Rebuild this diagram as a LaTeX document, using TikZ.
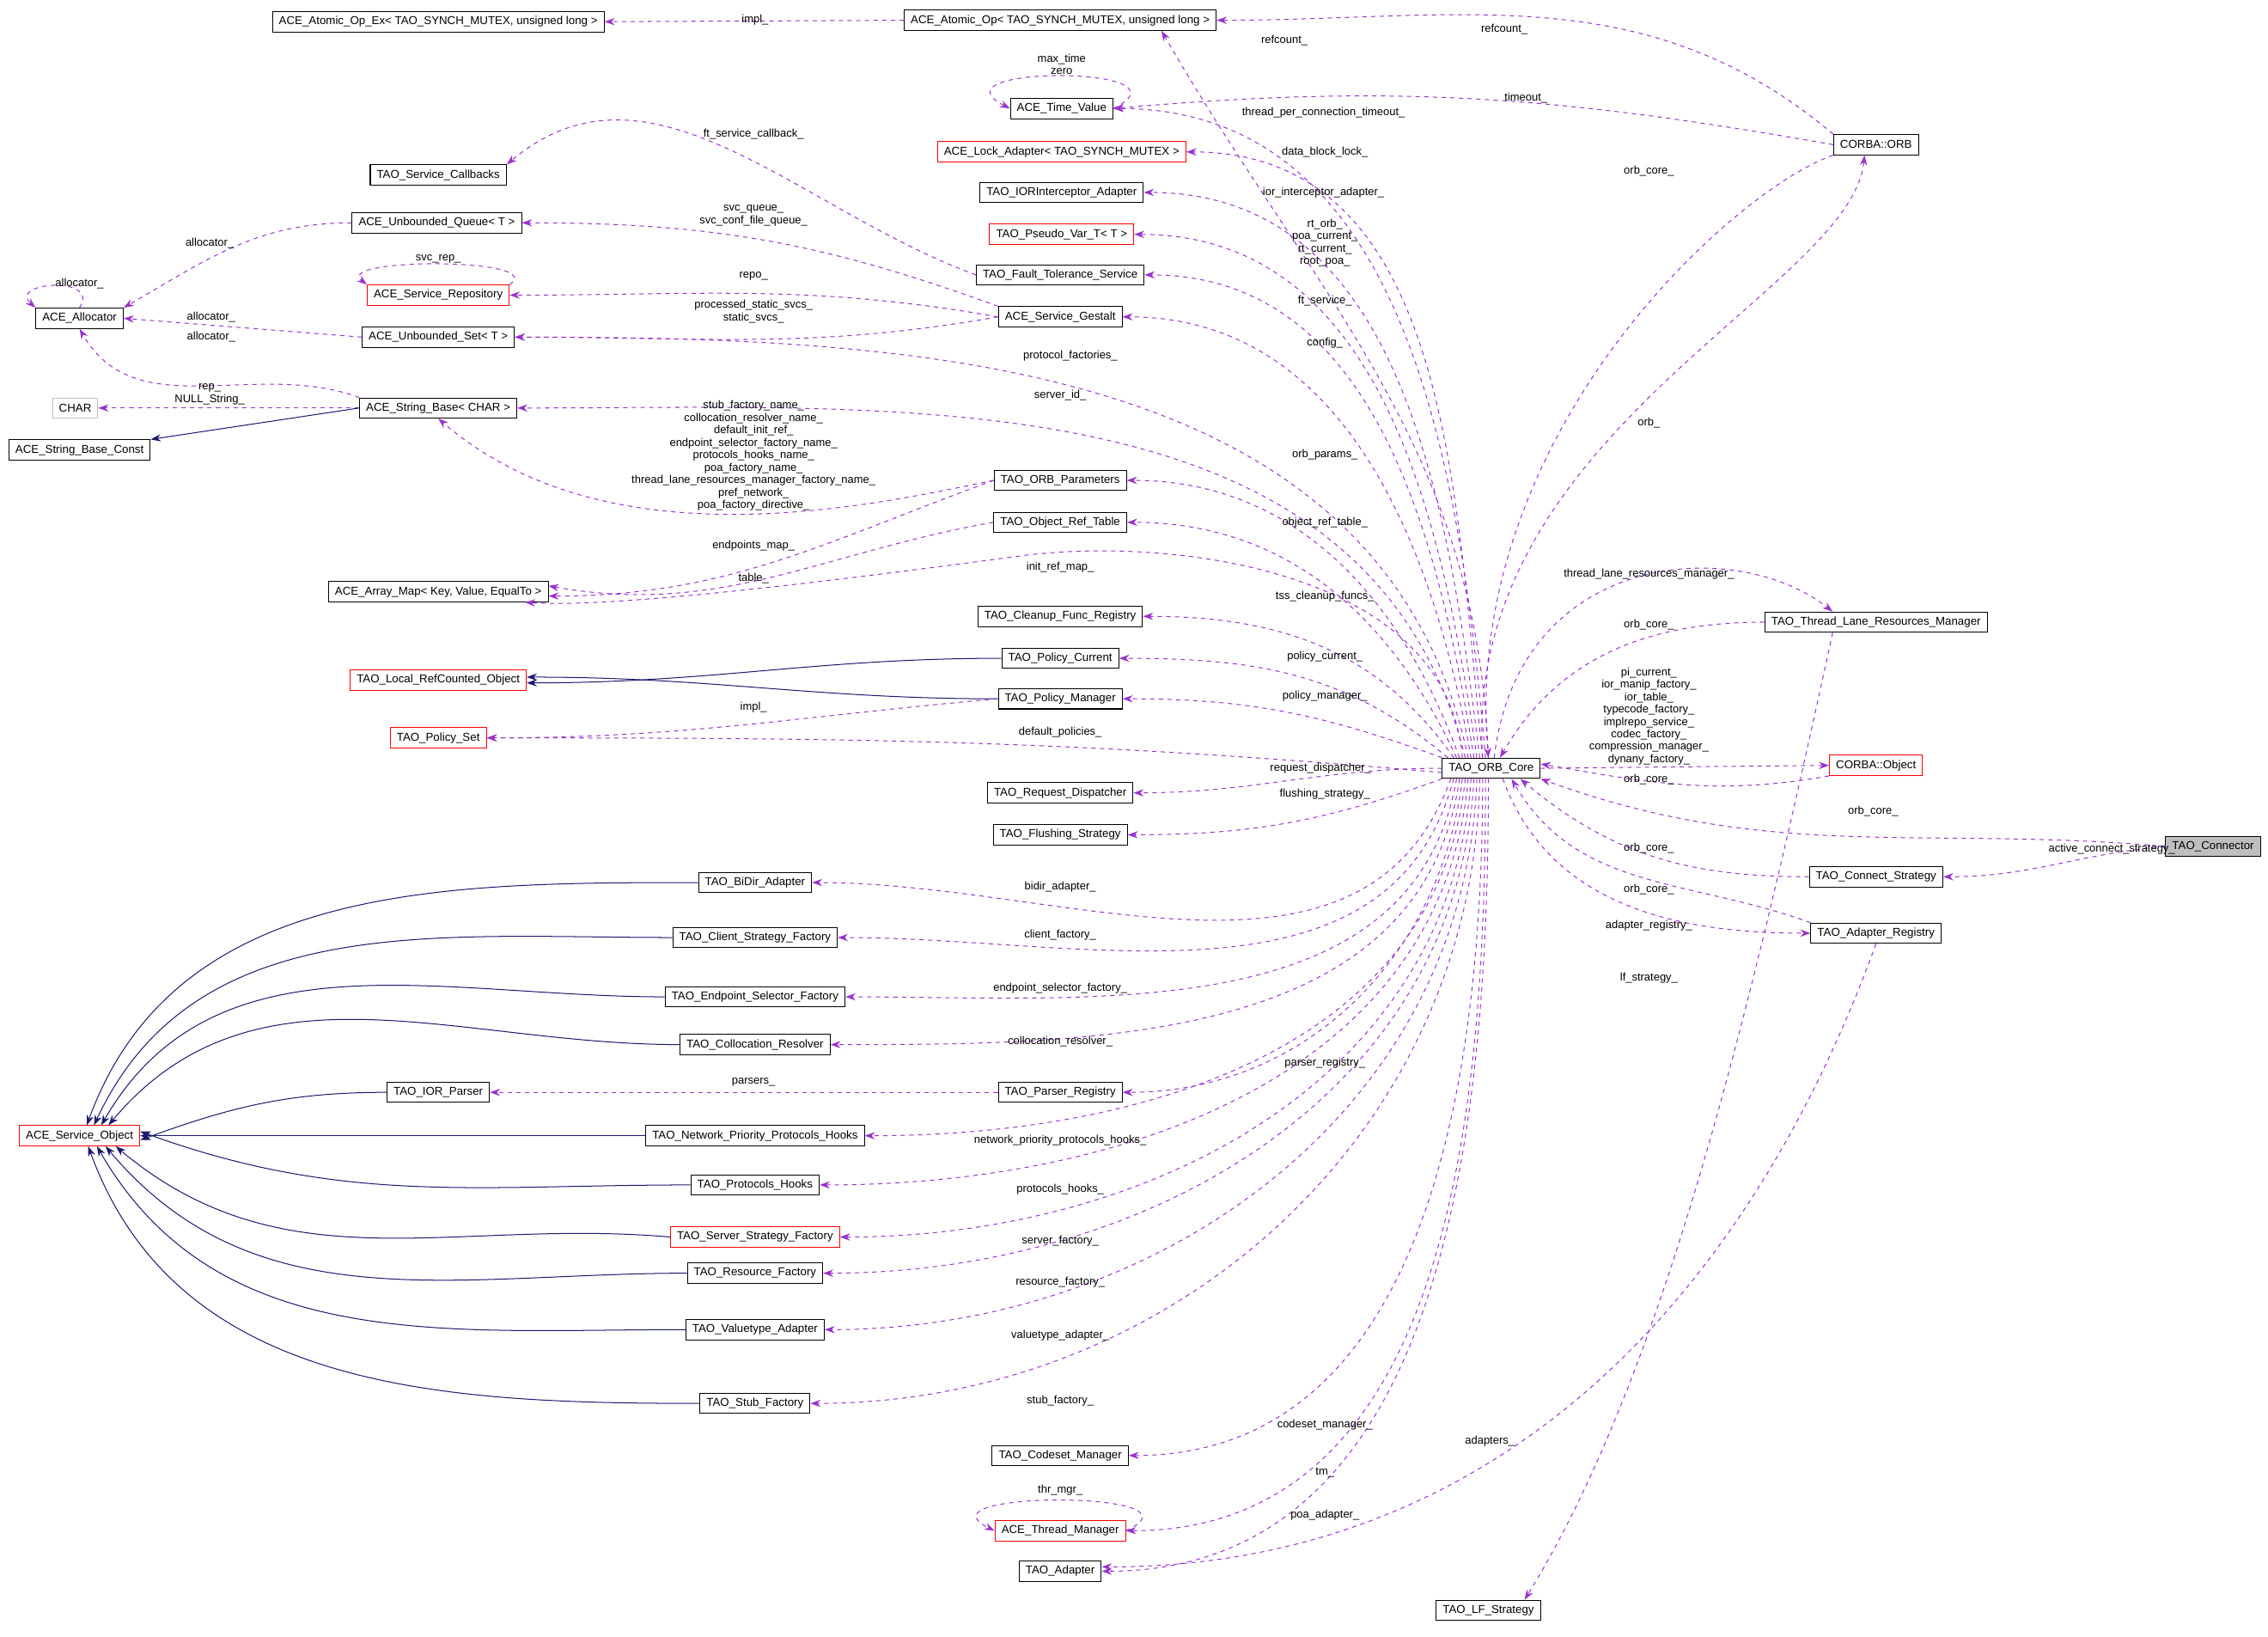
\documentclass[tikz,border=0pt]{standalone}
\usepackage{fontspec}
\setmainfont{Liberation Sans}
\usetikzlibrary{arrows.meta}
\definecolor{dep}{HTML}{9A32CD}
\definecolor{inhc}{HTML}{191970}
\definecolor{grayb}{HTML}{BFBFBF}
\begin{document}
\begin{tikzpicture}[x=1pt,y=-1pt,
 box/.style={draw=black,line width=0.6pt,font=\fontsize{7.9}{8.8}\selectfont,inner xsep=4.5pt,inner ysep=1pt,minimum height=14pt},
 rbox/.style={box,draw=red},
 lab/.style={font=\fontsize{7.7}{8.6}\selectfont,inner sep=0pt,align=center},
 dep/.style={draw=dep,line width=0.6pt,dash pattern=on 3pt off 3pt,-{Stealth[length=7pt,width=5pt]}},
 inh/.style={draw=inhc,line width=0.6pt,-{Stealth[length=7pt,width=5pt]}}]
\useasboundingbox (0,0) rectangle (1568,1131);
% nodes
\node[box] (aoex) at (303,15) {ACE\_Atomic\_Op\_Ex< TAO\_SYNCH\_MUTEX, unsigned long >};
\node[box] (ao) at (733,14) {ACE\_Atomic\_Op< TAO\_SYNCH\_MUTEX, unsigned long >};
\node[box] (tv) at (734,75) {ACE\_Time\_Value};
\node[rbox] (la) at (734,105) {ACE\_Lock\_Adapter< TAO\_SYNCH\_MUTEX >};
\node[box] (iora) at (734,133) {TAO\_IORInterceptor\_Adapter};
\node[rbox] (pv) at (734,162) {TAO\_Pseudo\_Var\_T< T >};
\node[box] (ft) at (733,190) {TAO\_Fault\_Tolerance\_Service};
\node[box] (gest) at (733,219) {ACE\_Service\_Gestalt};
\node[box] (cb) at (303,121) {TAO\_Service\_Callbacks};
\node[box] (uq) at (302,154) {ACE\_Unbounded\_Queue< T >};
\node[rbox] (srep) at (303,204) {ACE\_Service\_Repository};
\node[box] (alloc) at (55,220) {ACE\_Allocator};
\node[box] (us) at (303,233) {ACE\_Unbounded\_Set< T >};
\node[box,draw=grayb] (char) at (52,282) {CHAR};
\node[box] (sb) at (303,282) {ACE\_String\_Base< CHAR >};
\node[box] (sbc) at (55,311) {ACE\_String\_Base\_Const};
\node[box] (par) at (733,332) {TAO\_ORB\_Parameters};
\node[box] (ort) at (733,361) {TAO\_Object\_Ref\_Table};
\node[box] (am) at (303,409) {ACE\_Array\_Map< Key, Value, EqualTo >};
\node[box] (cfr) at (733,426) {TAO\_Cleanup\_Func\_Registry};
\node[rbox] (lrc) at (303,470) {TAO\_Local\_RefCounted\_Object};
\node[box] (pc) at (733,455) {TAO\_Policy\_Current};
\node[box] (pm) at (733,483) {TAO\_Policy\_Manager};
\node[rbox] (ps) at (303,510) {TAO\_Policy\_Set};
\node[box] (rd) at (733,548) {TAO\_Request\_Dispatcher};
\node[box] (fs) at (733,577) {TAO\_Flushing\_Strategy};
\node[box] (bd) at (522,610) {TAO\_BiDir\_Adapter};
\node[box] (csf) at (522,648) {TAO\_Client\_Strategy\_Factory};
\node[box] (esf) at (522,689) {TAO\_Endpoint\_Selector\_Factory};
\node[box] (cr) at (522,722) {TAO\_Collocation\_Resolver};
\node[box] (iorp) at (303,755) {TAO\_IOR\_Parser};
\node[box] (pr) at (733,755) {TAO\_Parser\_Registry};
\node[box] (npph) at (522,785) {TAO\_Network\_Priority\_Protocols\_Hooks};
\node[rbox] (so) at (55,785) {ACE\_Service\_Object};
\node[box] (ph) at (522,819) {TAO\_Protocols\_Hooks};
\node[rbox] (ssf) at (522,855) {TAO\_Server\_Strategy\_Factory};
\node[box] (rf) at (522,880) {TAO\_Resource\_Factory};
\node[box] (va) at (522,919) {TAO\_Valuetype\_Adapter};
\node[box] (stf) at (522,970) {TAO\_Stub\_Factory};
\node[box] (csm) at (733,1006) {TAO\_Codeset\_Manager};
\node[rbox] (thm) at (733,1058) {ACE\_Thread\_Manager};
\node[box] (ad) at (733,1086) {TAO\_Adapter};
\node[box] (core) at (1031,531) {TAO\_ORB\_Core};
\node[box] (orb) at (1297,100) {CORBA::ORB};
\node[box] (tlrm) at (1297,430) {TAO\_Thread\_Lane\_Resources\_Manager};
\node[rbox] (obj) at (1297,529) {CORBA::Object};
\node[box,fill=grayb] (conn) at (1530,585) {TAO\_Connector};
\node[box] (cs) at (1297,606) {TAO\_Connect\_Strategy};
\node[box] (ar) at (1297,645) {TAO\_Adapter\_Registry};
\node[box] (lf) at (1029,1113) {TAO\_LF\_Strategy};
% upper left edges
\draw[dep] (ao.west) -- (aoex.east);
\draw[dep] ([xshift=-2]core.north) to[out=92,in=-60] ([xshift=70]ao.south);
\draw[dep] (orb.north west) to[out=140,in=0] (ao.east);
\draw[dep] (tv.east) .. controls (830,45) and (640,45) .. (tv.west);
\draw[dep] ([xshift=-4]core.north) to[out=95,in=0] (tv.east);
\draw[dep] (orb.west) to[out=170,in=5] (tv.east);
\draw[dep] ([xshift=-6]core.north) to[out=96,in=0] (la.east);
\draw[dep] ([xshift=-8]core.north) to[out=97,in=0] (iora.east);
\draw[dep] ([xshift=-10]core.north) to[out=98,in=0] (pv.east);
\draw[dep] ([xshift=-12]core.north) to[out=99,in=0] (ft.east);
\draw[dep] ([xshift=-14]core.north) to[out=100,in=0] (gest.east);
\draw[dep] (ft.west) to[out=160,in=40] (cb.north east);
\draw[dep] (gest.north west) to[out=160,in=0] (uq.east);
\draw[dep] (gest.west) to[out=170,in=0] (srep.east);
\draw[dep] (srep.north east) .. controls (380,178) and (230,178) .. (srep.north west);
\draw[dep] (gest.west) to[out=190,in=0] (us.east);
\draw[dep] (uq.west) to[out=180,in=30] (alloc.north east);
\draw[dep] (alloc.north) .. controls (70,190) and (5,195) .. (alloc.north west);
\draw[dep] (us.west) -- (alloc.east);
\draw[dep] (sb.north west) to[out=160,in=-60] (alloc.south);
\draw[dep] ([xshift=-16]core.north) to[out=102,in=0] (us.east);
\draw[dep] (sb.west) -- (char.east);
\draw[inh] (sb.west) -- (sbc.north east);
\draw[dep] ([xshift=-18]core.north) to[out=104,in=0] (sb.east);
\draw[dep] (par.west) .. controls (600,350) and (420,390) .. (sb.south);
\draw[dep] (par.west) to[out=200,in=0] ([yshift=-3]am.east);
\draw[dep] (ort.west) to[out=190,in=-10] ([yshift=4]am.east);
\draw[dep] ([xshift=-20]core.north) .. controls (1000,390) and (800,370) .. (700,385) .. controls (550,405) and (420,420) .. ([xshift=60]am.south);
\draw[dep] ([xshift=-22]core.north) to[out=110,in=0] (par.east);
\draw[dep] ([xshift=-24]core.north) to[out=115,in=0] (ort.east);
\draw[dep] ([xshift=-26]core.north) to[out=125,in=0] (cfr.east);
\draw[inh] (pc.west) to[out=180,in=0] ([yshift=-2]lrc.east);
\draw[inh] (pm.west) to[out=180,in=0] ([yshift=2]lrc.east);
\draw[dep] ([xshift=-30]core.north) to[out=140,in=0] (pc.east);
\draw[dep] (core.north west) to[out=160,in=0] (pm.east);
\draw[dep] (pm.west) to[out=185,in=0] (ps.east);
\draw[dep] ([yshift=-3]core.west) to[out=175,in=0] (ps.east);
\draw[dep] (core.west) to[out=180,in=0] (rd.east);
\draw[dep] (core.south west) to[out=200,in=0] (fs.east);
% lower edges
\draw[dep] ([xshift=-28]core.south) to[out=-110,in=0] (bd.east);
\draw[dep] ([xshift=-26]core.south) to[out=-105,in=0] (csf.east);
\draw[dep] ([xshift=-24]core.south) to[out=-100,in=0] (esf.east);
\draw[dep] ([xshift=-22]core.south) to[out=-98,in=0] (cr.east);
\draw[dep] ([xshift=-20]core.south) to[out=-97,in=0] (pr.east);
\draw[dep] (pr.west) -- (iorp.east);
\draw[dep] ([xshift=-18]core.south) to[out=-96,in=0] (npph.east);
\draw[dep] ([xshift=-16]core.south) to[out=-95,in=0] (ph.east);
\draw[dep] ([xshift=-14]core.south) to[out=-94,in=0] (ssf.east);
\draw[dep] ([xshift=-12]core.south) to[out=-93,in=0] (rf.east);
\draw[dep] ([xshift=-10]core.south) to[out=-92,in=0] (va.east);
\draw[dep] ([xshift=-8]core.south) to[out=-91,in=0] (stf.east);
\draw[dep] ([xshift=-6]core.south) to[out=-90,in=0] (csm.east);
\draw[dep] ([xshift=-4]core.south) to[out=-90,in=0] (thm.east);
\draw[dep] (thm.east) .. controls (840,1030) and (630,1030) .. (thm.west);
\draw[dep] ([xshift=-2]core.south) to[out=-90,in=0] (ad.east);
\draw[dep] (ar.south) to[out=-110,in=0] ([yshift=3]ad.east);
% inheritance to ACE_Service_Object
\draw[inh] (bd.west) to[out=180,in=70] ([xshift=5]so.north);
\draw[inh] (csf.west) to[out=180,in=65] ([xshift=10]so.north);
\draw[inh] (esf.west) to[out=180,in=60] ([xshift=15]so.north);
\draw[inh] (cr.west) to[out=180,in=50] ([xshift=20]so.north);
\draw[inh] (iorp.west) to[out=180,in=20] ([yshift=-3]so.east);
\draw[inh] (npph.west) -- (so.east);
\draw[inh] (ph.west) to[out=180,in=-20] ([yshift=3]so.east);
\draw[inh] (ssf.west) to[out=175,in=-40] ([xshift=25]so.south);
\draw[inh] (rf.west) to[out=180,in=-50] ([xshift=18]so.south);
\draw[inh] (va.west) to[out=180,in=-60] ([xshift=12]so.south);
\draw[inh] (stf.west) to[out=180,in=-70] ([xshift=6]so.south);
% right side
\draw[dep] ([xshift=-6]core.north) .. controls (1010,300) and (1280,200) .. ([xshift=-8]orb.south);
\draw[dep] (orb.south west) .. controls (1200,130) and (1010,300) .. ([xshift=-2]core.north);
\draw[dep] ([xshift=2]core.north) .. controls (1050,380) and (1200,370) .. ([xshift=-30]tlrm.north);
\draw[dep] (tlrm.west) to[out=180,in=60] ([xshift=6]core.north);
\draw[dep] (core.east) -- (obj.west);
\draw[dep] (obj.south west) to[out=190,in=-10] ([yshift=3]core.east);
\draw[dep] (conn.west) to[out=175,in=-20] (core.south east);
\draw[dep] (conn.west) to[out=185,in=0] (cs.east);
\draw[dep] (cs.west) to[out=180,in=-40] ([xshift=20]core.south);
\draw[dep] (ar.north west) to[out=160,in=-60] ([xshift=14]core.south);
\draw[dep] ([xshift=8]core.south) to[out=-70,in=180] (ar.west);
\draw[dep] ([xshift=-30]tlrm.south) .. controls (1210,700) and (1150,950) .. ([xshift=25]lf.north);
% labels
\node[lab] at (522,14) {impl\_};
\node[lab] at (888,28) {refcount\_};
\node[lab] at (1040,20) {refcount\_};
\node[lab] at (734,44.5) {max\_time\\zero};
\node[lab] at (915,78) {thread\_per\_connection\_timeout\_};
\node[lab] at (1055,68) {timeout\_};
\node[lab] at (916,105) {data\_block\_lock\_};
\node[lab] at (915,133) {ior\_interceptor\_adapter\_};
\node[lab] at (916,168) {rt\_orb\_\\poa\_current\_\\rt\_current\_\\root\_poa\_};
\node[lab] at (916,208) {ft\_service\_};
\node[lab] at (521,93) {ft\_service\_callback\_};
\node[lab] at (521,149) {svc\_queue\_\\svc\_conf\_file\_queue\_};
\node[lab] at (521,191) {repo\_};
\node[lab] at (303,179) {svc\_rep\_};
\node[lab] at (521,215.5) {processed\_static\_svcs\_\\static\_svcs\_};
\node[lab] at (916,237) {config\_};
\node[lab] at (145,168) {allocator\_};
\node[lab] at (55,196) {allocator\_};
\node[lab] at (146,219) {allocator\_};
\node[lab] at (146,233) {allocator\_};
\node[lab] at (740,246) {protocol\_factories\_};
\node[lab] at (733,273) {server\_id\_};
\node[lab] at (145,272.5) {rep\_\\NULL\_String\_};
\node[lab] at (521,315) {stub\_factory\_name\_\\collocation\_resolver\_name\_\\default\_init\_ref\_\\endpoint\_selector\_factory\_name\_\\protocols\_hooks\_name\_\\poa\_factory\_name\_\\thread\_lane\_resources\_manager\_factory\_name\_\\pref\_network\_\\poa\_factory\_directive\_};
\node[lab] at (916,314) {orb\_params\_};
\node[lab] at (521,377) {endpoints\_map\_};
\node[lab] at (521,400) {table\_};
\node[lab] at (916,361) {object\_ref\_table\_};
\node[lab] at (733,392) {init\_ref\_map\_};
\node[lab] at (916,412) {tss\_cleanup\_funcs\_};
\node[lab] at (916,454) {policy\_current\_};
\node[lab] at (916,481) {policy\_manager\_};
\node[lab] at (521,489) {impl\_};
\node[lab] at (733,506) {default\_policies\_};
\node[lab] at (913,531) {request\_dispatcher\_};
\node[lab] at (916,549) {flushing\_strategy\_};
\node[lab] at (733,613) {bidir\_adapter\_};
\node[lab] at (733,646) {client\_factory\_};
\node[lab] at (733,683) {endpoint\_selector\_factory\_};
\node[lab] at (733,720) {collocation\_resolver\_};
\node[lab] at (916,735) {parser\_registry\_};
\node[lab] at (521,748) {parsers\_};
\node[lab] at (733,788) {network\_priority\_protocols\_hooks\_};
\node[lab] at (733,822) {protocols\_hooks\_};
\node[lab] at (733,858) {server\_factory\_};
\node[lab] at (733,886) {resource\_factory\_};
\node[lab] at (733,923) {valuetype\_adapter\_};
\node[lab] at (733,968) {stub\_factory\_};
\node[lab] at (916,985) {codeset\_manager\_};
\node[lab] at (916,1018) {tm\_};
\node[lab] at (733,1030) {thr\_mgr\_};
\node[lab] at (916,1047) {poa\_adapter\_};
\node[lab] at (1030,996) {adapters\_};
\node[lab] at (1140,118) {orb\_core\_};
\node[lab] at (1140,292) {orb\_};
\node[lab] at (1140,397) {thread\_lane\_resources\_manager\_};
\node[lab] at (1140,432) {orb\_core\_};
\node[lab] at (1140,495) {pi\_current\_\\ior\_manip\_factory\_\\ior\_table\_\\typecode\_factory\_\\implrepo\_service\_\\codec\_factory\_\\compression\_manager\_\\dynany\_factory\_};
\node[lab] at (1140,539) {orb\_core\_};
\node[lab] at (1295,561) {orb\_core\_};
\node[lab] at (1460,587) {active\_connect\_strategy\_};
\node[lab] at (1140,586) {orb\_core\_};
\node[lab] at (1140,615) {orb\_core\_};
\node[lab] at (1140,640) {adapter\_registry\_};
\node[lab] at (1140,676) {lf\_strategy\_};
\end{tikzpicture}
\end{document}
